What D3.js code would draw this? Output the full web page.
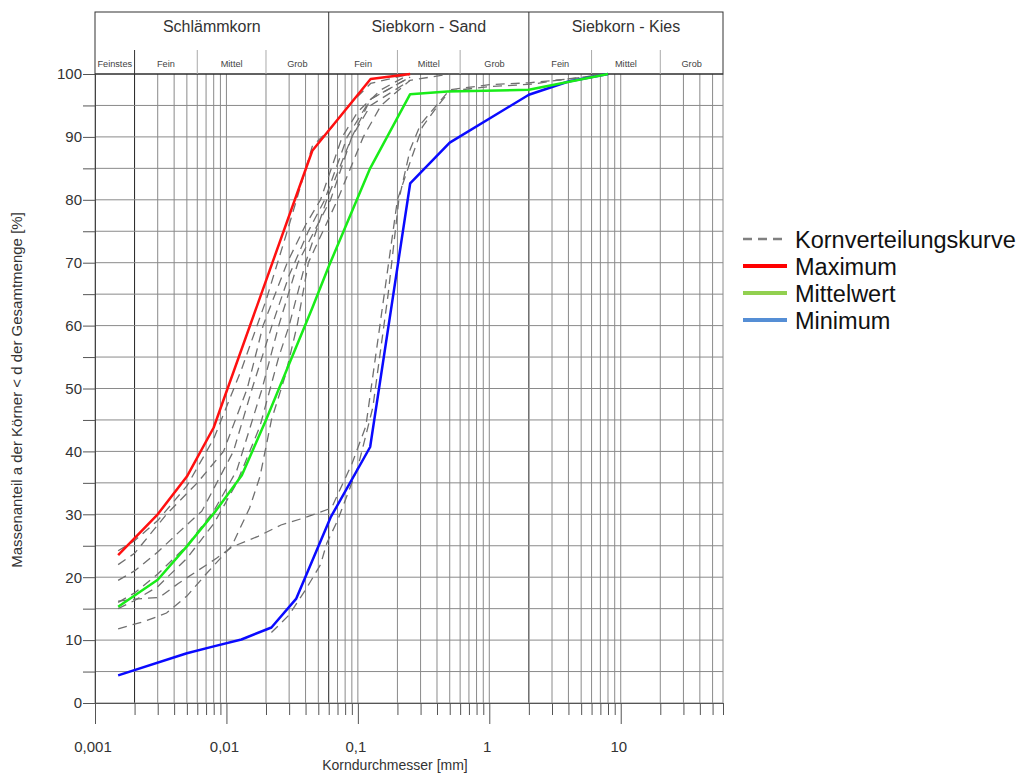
<!DOCTYPE html>
<html><head><meta charset="utf-8">
<script src="https://cdn.jsdelivr.net/npm/d3@7"></script>
<style>body{margin:0;background:#fff}svg{display:block;font-family:"Liberation Sans",Arial,sans-serif}</style>
</head><body><svg id="c" width="1021" height="773"></svg>
<script>
// ---- data ----
const yTicks = [0,10,20,30,40,50,60,70,80,90,100];
const xTickLabels = [[0.001,"0,001"],[0.01,"0,01"],[0.1,"0,1"],[1,"1"],[10,"10"]];
const mainGroups = [["Schlämmkorn",0.001,0.06],["Siebkorn - Sand",0.06,2],["Siebkorn - Kies",2,60]];
const subGroups = [["Feinstes",0.001,0.002],["Fein",0.002,0.006],["Mittel",0.006,0.02],["Grob",0.02,0.06],
  ["Fein",0.06,0.2],["Mittel",0.2,0.6],["Grob",0.6,2],["Fein",2,6],["Mittel",6,20],["Grob",20,60]];
const strongLines = [0.002,0.06,2];

const maximum = [[0.0015,23.5],[0.003,30],[0.005,36],[0.008,43.8],[0.045,87.8],[0.125,99.2],[0.25,100]];
const mittelwert = [[0.0015,15.3],[0.003,19.6],[0.005,24.9],[0.0082,30.4],[0.0131,36.2],[0.02,45],[0.045,62.8],[0.06,69.4],[0.124,85],[0.25,96.8],[0.48,97.2],[2,97.5],[8,100]];
const minimum = [[0.0015,4.4],[0.005,7.9],[0.008,9],[0.013,10.1],[0.022,12],[0.034,16.6],[0.062,29.5],[0.124,40.7],[0.25,82.6],[0.5,89.1],[2,96.7],[4,98.8],[8,100]];

const kurve1 = [[0.0015,24.2],[0.002,25.8],[0.003,29],[0.005,34.5],[0.008,42],[0.013,53],[0.02,64],[0.03,76],[0.045,88.5],[0.063,91.5],[0.09,95.5],[0.125,98.5],[0.25,100]];
const kurve2 = [[0.0015,22],[0.002,23.8],[0.0035,30],[0.006,35],[0.0095,40],[0.0144,50],[0.019,60],[0.029,70],[0.04,76],[0.052,80],[0.076,90],[0.1,94],[0.15,97.5],[0.25,100]];
const kurve3 = [[0.0015,19.5],[0.002,21],[0.003,24],[0.0048,28],[0.0065,30.5],[0.0113,40],[0.0157,50],[0.0222,60],[0.03,68],[0.042,75],[0.056,80],[0.083,90],[0.125,96],[0.25,99.5]];
const kurve4 = [[0.0015,16],[0.002,17.5],[0.003,20.5],[0.005,25],[0.008,30.5],[0.012,37],[0.0187,50],[0.025,60],[0.035,70],[0.062,80],[0.09,90],[0.125,95],[0.25,99]];
const kurve5 = [[0.0015,15],[0.002,16.3],[0.003,18.5],[0.005,23],[0.008,28.5],[0.012,35],[0.018,44],[0.025,55],[0.03,60],[0.04,70],[0.058,80],[0.09,90],[0.125,96],[0.25,99.5]];
const kurve6 = [[0.0015,16.2],[0.002,16.5],[0.0031,16.8],[0.0043,19],[0.006,21],[0.0084,23],[0.011,24.8],[0.0174,26.5],[0.026,28.3],[0.04,29.5],[0.063,31],[0.09,38],[0.115,44],[0.2,80],[0.25,86],[0.31,91.6],[0.4,94.8],[0.5,97.3],[1,98],[1.5,98.2],[2.2,98.4],[3,98.9],[8,100]];
const kurve7 = [[0.0015,11.8],[0.0024,13],[0.0035,14.3],[0.005,17],[0.007,20.5],[0.009,23],[0.011,25],[0.015,31],[0.018,36],[0.022,45],[0.028,52],[0.0345,60],[0.042,70],[0.07,80],[0.11,90],[0.15,95],[0.25,99],[0.5,100]];
const kurve8 = [[0.022,11.2],[0.03,14],[0.04,18],[0.052,22],[0.058,25.4],[0.07,29],[0.1,37.5],[0.13,47],[0.17,65],[0.205,80],[0.25,88],[0.3,92],[0.5,97.5],[1,98.3],[2,98.6],[4,99.2],[8,100]];
const kurven = [kurve1,kurve2,kurve3,kurve4,kurve5,kurve6,kurve7,kurve8];

const legendItems = [["Kornverteilungskurve","#808080",true],["Maximum","#ff0000",false],["Mittelwert","#92d050",false],["Minimum","#558ed5",false]];

// ---- drawing ----
const svg = d3.select("#c");
const x = d3.scaleLog().domain([0.001,60]).range([95,723]);
const y = d3.scaleLinear().domain([0,100]).range([703,74]);

// vertical gridlines
const gridVals = [];
for (let k=-3;k<=1;k++) for (let m=1;m<=9;m++){const v=+(m*Math.pow(10,k)).toPrecision(3); if(v<=60) gridVals.push(v);}
svg.append("g").selectAll("line").data(gridVals).join("line")
  .attr("x1",d=>x(d)).attr("x2",d=>x(d)).attr("y1",y(100)).attr("y2",y(0))
  .attr("stroke",d=>strongLines.includes(d)?"#222":"#8a8a8a").attr("stroke-width",1);
// horizontal gridlines every 5
const hVals = d3.range(0,101,5);
svg.append("g").selectAll("line").data(hVals).join("line")
  .attr("x1",x(0.001)).attr("x2",x(60)).attr("y1",d=>y(d)).attr("y2",d=>y(d))
  .attr("stroke",d=>d===100?"#222":"#8a8a8a").attr("stroke-width",1);

// y axis
const yAxis = d3.axisLeft(y).tickValues(hVals).tickSize(12).tickFormat(d=>yTicks.includes(d)?d:"");
const ya = svg.append("g").attr("transform","translate(95,0)").call(yAxis);
ya.select(".domain").attr("stroke","#444");
ya.selectAll(".tick line").attr("stroke","#555");
ya.selectAll("text").attr("font-size",15).attr("fill","#333").attr("x",-13).attr("font-family","Liberation Sans, Arial, sans-serif");

// x axis
const xa = svg.append("g").attr("transform","translate(0,703)")
  .call(d3.axisBottom(x).tickValues(gridVals).tickSize(12).tickFormat(""));
xa.select(".domain").attr("stroke","#555");
xa.selectAll(".tick line").attr("stroke","#555").attr("y2",d=>xTickLabels.some(t=>t[0]===d)?21:12);
svg.append("g").selectAll("text").data(xTickLabels).join("text")
  .attr("x",d=>x(d[0])-2).attr("y",752).attr("text-anchor","middle").attr("font-size",15).attr("fill","#333").text(d=>d[1]);
svg.append("text").attr("x",395).attr("y",770).attr("text-anchor","middle").attr("font-size",14).attr("fill","#333").text("Korndurchmesser [mm]");
svg.append("text").attr("transform","translate(22,390) rotate(-90)").attr("text-anchor","middle").attr("font-size",15).attr("fill","#333")
  .text("Massenanteil a der Körner < d der Gesamtmenge [%]");

// header
const hdr = svg.append("g");
hdr.append("rect").attr("x",x(0.001)).attr("y",12).attr("width",x(60)-x(0.001)).attr("height",y(100)-12)
  .attr("fill","none").attr("stroke","#333");
hdr.selectAll("line.main").data(mainGroups.slice(1)).join("line").attr("class","main")
  .attr("x1",d=>x(d[1])).attr("x2",d=>x(d[1])).attr("y1",12).attr("y2",y(100)).attr("stroke","#333");
hdr.selectAll("line.sub").data(subGroups.filter(g=>!mainGroups.some(m=>m[1]===g[1]))).join("line").attr("class","sub")
  .attr("x1",d=>x(d[1])).attr("x2",d=>x(d[1])).attr("y1",50).attr("y2",y(100))
  .attr("stroke",d=>strongLines.includes(d[1])?"#333":"#aaa");
hdr.selectAll("text.main").data(mainGroups).join("text").attr("class","main")
  .attr("x",d=>(x(d[1])+x(d[2]))/2).attr("y",32).attr("text-anchor","middle").attr("font-size",16).attr("fill","#333").text(d=>d[0]);
hdr.selectAll("text.sub").data(subGroups).join("text").attr("class","sub")
  .attr("x",d=>(x(d[1])+x(d[2]))/2).attr("y",67).attr("text-anchor","middle").attr("font-size",9.2).attr("fill","#444").text(d=>d[0]);

// curves
const line = d3.line().x(d=>x(d[0])).y(d=>y(d[1]));
svg.append("g").selectAll("path").data(kurven).join("path").attr("d",line)
  .attr("fill","none").attr("stroke","#707070").attr("stroke-width",1.3).attr("stroke-dasharray","9,6");
[[minimum,"#0a0aff"],[mittelwert,"#19ec19"],[maximum,"#ff1010"]].forEach(([data,col])=>{
  svg.append("path").datum(data).attr("d",line).attr("fill","none").attr("stroke",col).attr("stroke-width",2.5).attr("stroke-linejoin","round");
});

// legend
const lg = svg.append("g").attr("transform","translate(743,239)");
legendItems.forEach((it,i)=>{
  const g = lg.append("g").attr("transform",`translate(0,${i*27})`);
  g.append("line").attr("x1",0).attr("x2",44).attr("y1",0).attr("y2",0).attr("stroke",it[1])
    .attr("stroke-width",it[2]?2.5:4).attr("stroke-dasharray",it[2]?"9,6":null);
  g.append("text").attr("x",52).attr("y",8.5).attr("font-size",23.5).attr("fill","#111").text(it[0]);
});
</script></body></html>
